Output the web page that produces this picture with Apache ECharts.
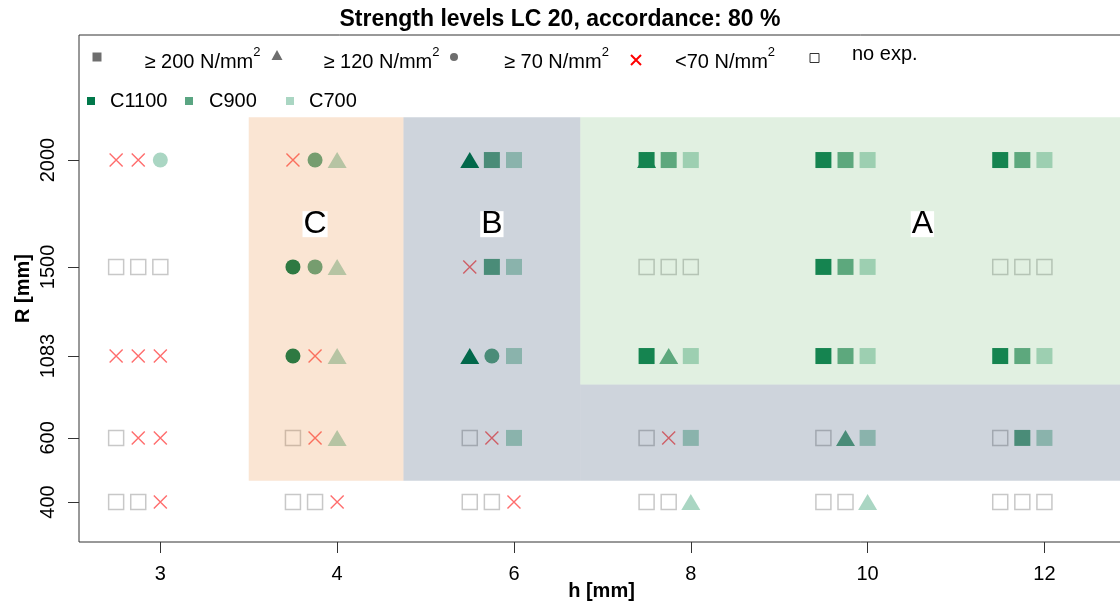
<!DOCTYPE html>
<html>
<head>
<meta charset="utf-8">
<script src="https://cdn.jsdelivr.net/npm/echarts@6/dist/echarts.min.js"></script>
<style>
html,body{margin:0;padding:0;background:#fff;}
#chart{width:1120px;height:604px;}
</style>
</head>
<body>
<div id="chart"></div>
<script>
// ---------- data ----------
const hLabels = ['3', '4', '6', '8', '10', '12'];
const rLabels = ['2000', '1500', '1083', '600', '400'];
// vertical positions at which the R rows are plotted (the 600 row sits at 700 in the original)
const rPlotValues = [2000, 1500, 1083, 700, 400];
const materials = ['C1100', 'C900', 'C700'];
// strength level per h, rows R = 2000,1500,1083,600,400, one char per material (C1100,C900,C700)
// S: >=200, T: >=120, C: >=70, X: <70 N/mm2, N: no exp.
const levels_h3  = ['XXC', 'NNN', 'XXX', 'NXX', 'NNX'];
const levels_h4  = ['XCT', 'CCT', 'CXT', 'NXT', 'NNX'];
const levels_h6  = ['TSS', 'XSS', 'TCS', 'NXS', 'NNX'];
const levels_h8  = ['SSS', 'NNN', 'STS', 'NXS', 'NNT'];
const levels_h10 = ['SSS', 'SSS', 'SSS', 'NTS', 'NNT'];
const levels_h12 = ['SSS', 'NNN', 'SSS', 'NSS', 'NNN'];
// additional result hidden below another marker: [h, R, material, level]
const extraPoints = [['8', '2000', 'C1100', 'T']];
// strength regions (h index range, R range)
const regionC = [[1.5, 2.375, 500, 2200]];
const regionB = [[2.375, 3.375, 500, 2200], [3.375, 6.45, 500, 950]];
const regionA = [[3.375, 6.45, 950, 2200]];
const regionLabels = [['C', 1.875, 1700], ['B', 2.875, 1700], ['A', 5.31, 1700]];

// ---------- styling ----------
const FONT = 'Liberation Sans, Arial, Helvetica, sans-serif';
const matColors = ['#00784A', '#5AA582', '#AAD6C3'];
const matOffset = [-0.25, -0.125, 0];
const allLevels = [levels_h3, levels_h4, levels_h6, levels_h8, levels_h10, levels_h12];
const levelOrder = ['N', 'X', 'C', 'T', 'S'];
const levelName = {
  S: '≥ 200 N/mm2', T: '≥ 120 N/mm2', C: '≥ 70 N/mm2', X: '<70 N/mm2', N: 'no exp.'
};
const xPath = 'path://M0,0L10,10M10,0L0,10';

const pts = {N: [], X: [], C: [], T: [], S: []};
function addPoint(hi, ri, mi, code) {
  pts[code].push({
    value: [hi + 1 + matOffset[mi], rPlotValues[ri], mi],
    itemStyle: (code === 'S' || code === 'T' || code === 'C') ? {color: matColors[mi]} : undefined
  });
}
extraPoints.forEach(p => addPoint(hLabels.indexOf(p[0]), rLabels.indexOf(p[1]), materials.indexOf(p[2]), p[3]));
allLevels.forEach((rows, hi) => rows.forEach((row, ri) => row.split('').forEach((code, mi) => addPoint(hi, ri, mi, code))));

const seriesStyle = {
  S: {symbol: 'rect', symbolSize: 16, itemStyle: {opacity: 1}},
  T: {symbol: 'triangle', symbolSize: [19, 16], itemStyle: {opacity: 1}},
  C: {symbol: 'circle', symbolSize: 15, itemStyle: {opacity: 1}},
  X: {symbol: xPath, symbolSize: 13, itemStyle: {opacity: 1, color: 'transparent', borderColor: 'rgba(255,30,30,0.65)', borderWidth: 1.4}},
  N: {symbol: 'rect', symbolSize: 15, itemStyle: {opacity: 1, color: 'transparent', borderColor: '#C8C8C8', borderWidth: 1.5}}
};

const series = levelOrder.map(code => ({
  name: levelName[code],
  type: 'scatter',
  symbol: seriesStyle[code].symbol,
  symbolSize: seriesStyle[code].symbolSize,
  itemStyle: seriesStyle[code].itemStyle,
  data: pts[code],
  z: 2,
  emphasis: {disabled: true}
}));

// material series (legend only)
materials.forEach((m, i) => series.push({
  name: m, type: 'scatter', data: [], itemStyle: {color: matColors[i], opacity: 1}
}));

function toArea(list, color) {
  return list.map(r => [
    {xAxis: r[0], yAxis: r[2], itemStyle: {color: color}},
    {xAxis: r[1], yAxis: r[3]}
  ]);
}
series.push({
  name: 'regions', type: 'scatter', data: [], z: 10,
  markArea: {
    silent: true, z: 10,
    itemStyle: {borderWidth: 0},
    data: [].concat(
      toArea(regionC, 'rgba(230,125,35,0.2)'),
      toArea(regionB, 'rgba(10,40,80,0.2)'),
      toArea(regionA, 'rgba(105,180,105,0.2)')
    )
  }
});
series.push({
  name: 'regionLabels', type: 'scatter', z: 20, symbolSize: 1,
  itemStyle: {color: 'transparent', opacity: 1},
  silent: true,
  data: regionLabels.map(r => ({value: [r[1], r[2]], name: r[0]})),
  label: {
    show: true, position: 'inside', formatter: p => p.name,
    fontSize: 32, fontFamily: FONT, color: '#000',
    backgroundColor: '#fff', lineHeight: 26, padding: [0, 1, 0, 1]
  }
});

// ---------- legends ----------
// cy: icon centre; pt: shift of main text (down), pb: shift of superscript (up)
function supLegend(name, cx, cy, w, h, icon, itemStyle, text, pad, pt, pb) {
  const H = Math.max(20 + pt, 13 + pb);
  return {
    data: [{name: name, icon: icon, itemStyle: itemStyle}],
    left: cx - w / 2, top: cy - H / 2, padding: 0,
    itemWidth: w, itemHeight: h, selectedMode: false,
    formatter: () => '{t|' + text + '}{s|2}',
    textStyle: {
      fontFamily: FONT, color: '#000',
      rich: {
        t: {fontSize: 20, lineHeight: 20, fontFamily: FONT, color: '#000', padding: [pt, 0, 0, pad]},
        s: {fontSize: 13, lineHeight: 13, fontFamily: FONT, color: '#000', padding: [0, 0, pb, 0]}
      }
    }
  };
}
function plainLegend(name, cx, cy, w, h, icon, itemStyle, text, pad, pb) {
  return {
    data: [{name: name, icon: icon, itemStyle: itemStyle}],
    left: cx - w / 2, top: cy - (20 + pb) / 2, padding: 0,
    itemWidth: w, itemHeight: h, selectedMode: false,
    formatter: () => '{t|' + text + '}',
    textStyle: {
      fontFamily: FONT, color: '#000',
      rich: {t: {fontSize: 20, lineHeight: 20, fontFamily: FONT, color: '#000', padding: [0, 0, pb, pad]}}
    }
  };
}
const grey = {color: '#6E6E6E', borderWidth: 0, opacity: 1};
const legends = [
  supLegend(levelName.S, 97, 57, 9, 9, 'rect', grey, '≥ 200 N/mm', 38, 10, 10),
  supLegend(levelName.T, 277, 55, 11, 10, 'triangle', grey, '≥ 120 N/mm', 36, 14, 6),
  supLegend(levelName.C, 454, 57, 8, 8, 'circle', grey, '≥ 70 N/mm', 41, 10, 10),
  supLegend(levelName.X, 635, 60, 10, 10, xPath, {color: 'transparent', borderColor: '#FF0000', borderWidth: 2, opacity: 1}, '<70 N/mm', 29, 4, 16),
  plainLegend(levelName.N, 814, 58, 9, 9, 'rect', {color: 'transparent', borderColor: '#333', borderWidth: 1, opacity: 1}, 'no exp.', 28, 8),
  plainLegend('C1100', 91, 101, 8, 8, 'rect', {color: matColors[0], opacity: 1}, 'C1100', 10, 0),
  plainLegend('C900', 189, 101, 8, 8, 'rect', {color: matColors[1], opacity: 1}, 'C900', 11, 0),
  plainLegend('C700', 290, 101, 8, 8, 'rect', {color: matColors[2], opacity: 1}, 'C700', 10, 0)
];

// ---------- chart ----------
const chart = echarts.init(document.getElementById('chart'), null, {renderer: 'canvas'});
chart.setOption({
  animation: false,
  backgroundColor: '#fff',
  title: {
    text: 'Strength levels LC 20, accordance: 80 %',
    left: 'center', top: 8, padding: [0, 0, 0, 82],
    textStyle: {fontFamily: FONT, fontSize: 23, fontWeight: 'bold', color: '#000'}
  },
  legend: legends,
  grid: {
    left: 79, top: 35, width: 1045, height: 507,
    outerBoundsMode: 'none', containLabel: false,
    show: true, borderColor: '#333', borderWidth: 1, backgroundColor: 'transparent'
  },
  xAxis: {
    type: 'value', min: 0.54, max: 6.45,
    name: 'h [mm]', nameLocation: 'middle', nameGap: 39, nameMoveOverlap: false,
    nameTextStyle: {fontFamily: FONT, fontSize: 20, fontWeight: 'bold', color: '#000'},
    axisLine: {show: false},
    splitLine: {show: false},
    axisTick: {show: true, length: 11, customValues: [1, 2, 3, 4, 5, 6], lineStyle: {color: '#333'}},
    axisLabel: {
      customValues: [1, 2, 3, 4, 5, 6], margin: 22,
      formatter: v => hLabels[Math.round(v) - 1],
      fontFamily: FONT, fontSize: 20, color: '#000'
    }
  },
  yAxis: {
    type: 'value', min: 213, max: 2585,
    name: 'R [mm]', nameLocation: 'middle', nameGap: 49, nameRotate: 90, nameMoveOverlap: false,
    nameTextStyle: {fontFamily: FONT, fontSize: 20, fontWeight: 'bold', color: '#000', lineHeight: 14},
    axisLine: {show: false},
    splitLine: {show: false},
    axisTick: {show: true, length: 11, customValues: rPlotValues, lineStyle: {color: '#333'}},
    axisLabel: {
      customValues: rPlotValues, margin: 21, rotate: 90,
      formatter: v => rLabels[rPlotValues.indexOf(v)],
      fontFamily: FONT, fontSize: 20, color: '#000'
    }
  },
  series: series
});
</script>
</body>
</html>
